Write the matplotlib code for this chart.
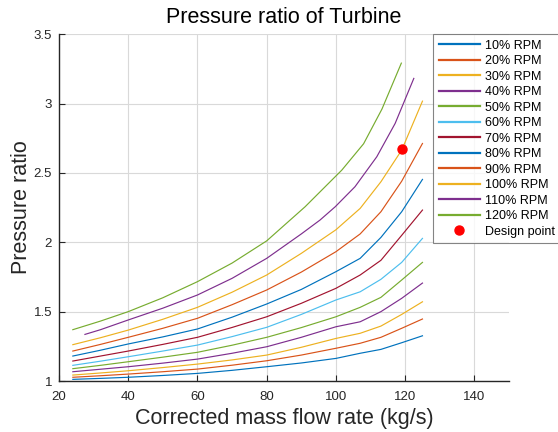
import numpy as np
import matplotlib
matplotlib.use("Agg")
import matplotlib.pyplot as plt

plt.rcParams['font.family'] = ['Liberation Sans', 'DejaVu Sans']

# Speed lines
x_std = [24, 32, 40, 50, 60, 70, 80, 90, 100, 107, 113, 119, 125]
pr_10 = [1.012, 1.019, 1.027, 1.040, 1.055, 1.077, 1.103, 1.130, 1.163, 1.200, 1.228, 1.276, 1.326]
pr_20 = [1.027, 1.038, 1.050, 1.067, 1.086, 1.114, 1.146, 1.187, 1.236, 1.272, 1.315, 1.380, 1.447]
pr_30 = [1.043, 1.058, 1.074, 1.097, 1.122, 1.152, 1.187, 1.243, 1.307, 1.344, 1.396, 1.480, 1.571]
pr_40 = [1.067, 1.085, 1.103, 1.129, 1.158, 1.200, 1.247, 1.315, 1.391, 1.427, 1.500, 1.596, 1.706]
pr_50 = [1.089, 1.113, 1.139, 1.172, 1.207, 1.258, 1.315, 1.385, 1.463, 1.531, 1.603, 1.728, 1.855]
pr_60 = [1.113, 1.143, 1.175, 1.216, 1.259, 1.320, 1.387, 1.480, 1.584, 1.643, 1.733, 1.855, 2.028]
pr_70 = [1.144, 1.180, 1.216, 1.264, 1.315, 1.386, 1.463, 1.560, 1.668, 1.764, 1.870, 2.050, 2.232]
pr_80 = [1.180, 1.222, 1.267, 1.318, 1.375, 1.460, 1.555, 1.660, 1.788, 1.884, 2.035, 2.220, 2.453]
pr_90 = [1.216, 1.264, 1.315, 1.380, 1.452, 1.550, 1.656, 1.785, 1.932, 2.060, 2.220, 2.440, 2.712]
pr_100 = [1.262, 1.312, 1.367, 1.445, 1.531, 1.640, 1.764, 1.920, 2.090, 2.244, 2.436, 2.664, 3.017]

x_110 = [27.5, 32, 40, 50, 60, 70, 80, 90, 95.4, 99.8, 105.5, 111.8, 117.1, 122.5]
pr_110 = [1.336, 1.370, 1.440, 1.525, 1.620, 1.740, 1.884, 2.060, 2.160, 2.256, 2.400, 2.616, 2.856, 3.181]

x_120 = [24, 32, 40, 50, 60, 70, 80, 91.1, 101.7, 108, 113.3, 118.9]
pr_120 = [1.370, 1.432, 1.500, 1.600, 1.716, 1.850, 2.010, 2.256, 2.520, 2.710, 2.960, 3.291]

labels = ['10% RPM', '20% RPM', '30% RPM', '40% RPM', '50% RPM', '60% RPM',
          '70% RPM', '80% RPM', '90% RPM', '100% RPM', '110% RPM', '120% RPM']

design_m = 119.0
design_pr = 2.67

# matlab default line colours
cols = [(0, 0.447, 0.741), (0.85, 0.325, 0.098), (0.929, 0.694, 0.125),
        (0.494, 0.184, 0.556), (0.466, 0.674, 0.188), (0.301, 0.745, 0.933),
        (0.635, 0.078, 0.184)]

series = [(x_std, pr_10), (x_std, pr_20), (x_std, pr_30), (x_std, pr_40),
          (x_std, pr_50), (x_std, pr_60), (x_std, pr_70), (x_std, pr_80),
          (x_std, pr_90), (x_std, pr_100), (x_110, pr_110), (x_120, pr_120)]

dark = (0.15, 0.15, 0.15)

fig = plt.figure(figsize=(5.58, 4.32), dpi=100)
ax = fig.add_axes([0.1057, 0.118, 0.8065, 0.803])

for i, (xs, ys) in enumerate(series):
    ax.plot(xs, ys, color=cols[i % 7], lw=0.85, label=labels[i])
ax.plot(design_m, design_pr, 'o', color='red', ms=6.5, label='Design point')

ax.set_xlim(20, 150)
ax.set_ylim(1, 3.5)
ax.set_xticks(np.arange(20, 141, 20))
ax.set_yticks([1, 1.5, 2, 2.5, 3, 3.5])
ax.set_yticklabels(['1', '1.5', '2', '2.5', '3', '3.5'])
ax.grid(True, color=(0.85, 0.85, 0.85), lw=0.8)
ax.set_axisbelow(True)
for s in ['top', 'right']:
    ax.spines[s].set_visible(False)
for s in ['left', 'bottom']:
    ax.spines[s].set_color(dark)
    ax.spines[s].set_linewidth(1.0)
ax.tick_params(direction='in', length=4, labelsize=9.5, colors=dark)
ax.tick_params(axis='x', pad=7)
ax.tick_params(axis='y', pad=5)

ax.set_title('Pressure ratio of Turbine', fontsize=15.5, pad=8)
ax.set_xlabel('Corrected mass flow rate (kg/s)', fontsize=15.5, labelpad=4, color=dark)
ax.set_ylabel('Pressure ratio', fontsize=15.5, labelpad=1, color=dark)

leg = ax.legend(loc='upper left', bbox_to_anchor=(0.831, 1.0), borderaxespad=0,
                fontsize=9, frameon=True, fancybox=False, handlelength=3.3,
                handletextpad=0.45, labelspacing=0.28, borderpad=0.45)
leg.get_frame().set_edgecolor((0.4, 0.4, 0.4))
leg.get_frame().set_linewidth(0.8)
for h in leg.get_lines()[:12]:
    h.set_linewidth(1.6)

fig.savefig('out.png', dpi=100)
